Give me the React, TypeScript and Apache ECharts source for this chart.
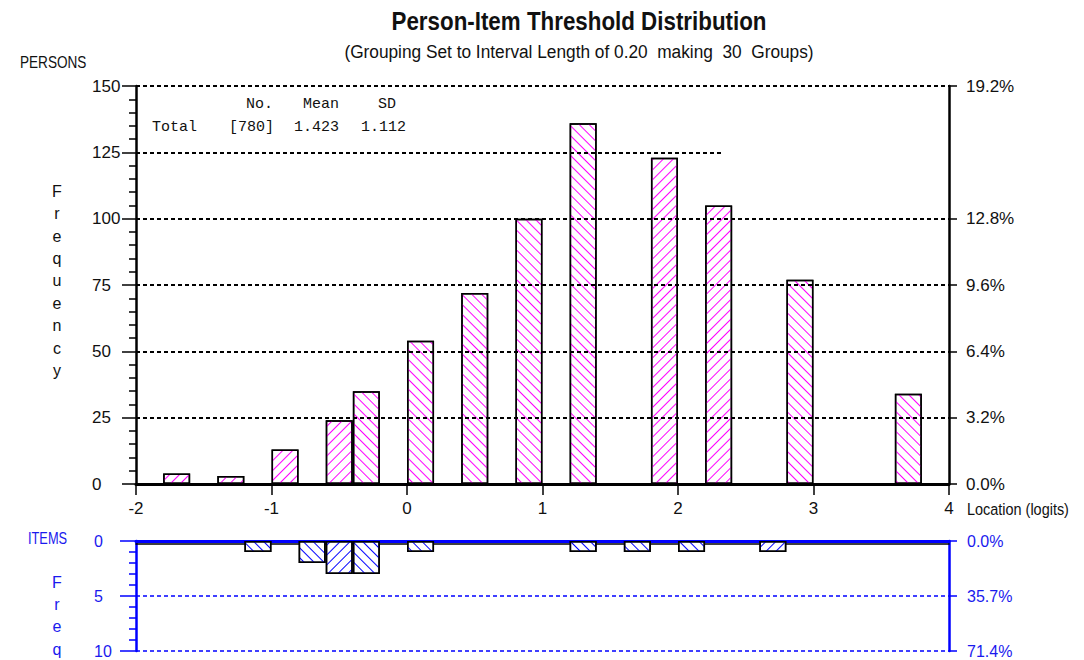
import React, { useEffect, useRef } from "react";
import * as echarts from "echarts";

// ---- data ----
const BIN = 0.2;
const personBinStarts = [-1.8, -1.4, -1.0, -0.6, -0.4, 0.0, 0.4, 0.8, 1.2, 1.8, 2.2, 2.8, 3.6];
const personCounts = [4, 3, 13, 24, 35, 54, 72, 100, 136, 123, 105, 77, 34];
const personHatch = ["/", "/", "/", "/", "\\", "\\", "\\", "\\", "\\", "/", "/", "\\", "\\"];
const itemBinStarts = [-1.2, -0.8, -0.6, -0.4, 0.0, 1.2, 1.6, 2.0, 2.6];
const itemCounts = [1, 2, 3, 3, 1, 1, 1, 1, 1];
const itemHatch = ["\\", "\\", "/", "\\", "\\", "\\", "\\", "\\", "/"];
const personGridFull = [25, 50, 75, 100, 150];
const personGridPartial = 125;
const personGridPartialEnd = 2.32;
const personPctTicks = [0, 25, 50, 75, 100, 150];
const itemPctTicks = [0, 5, 10];
const statHeaders = ["No.", "Mean", "SD"];
const statMean = "1.423";
const statSD = "1.112";
const titleText = "Person-Item Threshold Distribution";
const subtitleText = "(Grouping Set to Interval Length of 0.20  making  30  Groups)";

const NARROW = "'Liberation Sans Narrow', 'Arial Narrow', 'Liberation Sans', Arial, sans-serif";
const MONO = "'Liberation Mono', 'DejaVu Sans Mono', monospace";
const BLUE = "#0000ff";
const BLUE_TXT = "#1a1aee";

const hatch = (dir: string, color: string) => ({
  symbol: "rect",
  symbolSize: 1,
  dashArrayX: [1, 0],
  dashArrayY: [1, 5.6],
  rotation: dir === "/" ? -Math.PI / 4 : Math.PI / 4,
  color,
});

export default function App() {
  const ref = useRef<HTMLDivElement>(null);
  useEffect(() => {
    if (!ref.current) return;
    const chart = echarts.init(ref.current, undefined, { renderer: "svg" });
    const personTotal = personCounts.reduce((a, b) => a + b, 0);
    const itemTotal = itemCounts.reduce((a, b) => a + b, 0);

    const personData = personBinStarts.map((s, i) => ({
      value: [s + BIN / 2, personCounts[i]],
      itemStyle: { decal: hatch(personHatch[i], "#ff00ff") },
    }));
    const itemData = itemBinStarts.map((s, i) => ({
      value: [s + BIN / 2, itemCounts[i]],
      itemStyle: { decal: hatch(itemHatch[i], BLUE) },
    }));

    const txt = (x: number, y: number, text: string, o: any = {}) => ({
      type: "text",
      x,
      y,
      scaleX: o.scaleX || 1,
      silent: true,
      style: {
        text,
        fill: o.fill || "#111",
        font: o.font || `17px ${NARROW}`,
        textAlign: o.align || "left",
        textVerticalAlign: o.valign || "middle",
        lineHeight: o.lineHeight,
      },
    });

    const option: any = {
      animation: false,
      backgroundColor: "#fff",
      grid: [
        { left: 136, top: 86, width: 813, height: 398 },
        { left: 136, top: 541, width: 813, height: 110 },
      ],
      xAxis: [
        {
          type: "value",
          gridIndex: 0,
          min: -2,
          max: 4,
          interval: 1,
          axisLine: { show: true, onZero: false, lineStyle: { color: "#000", width: 3 } },
          axisTick: { show: true, length: 11, lineStyle: { color: "#000", width: 1.5 } },
          axisLabel: { color: "#111", fontSize: 17, fontFamily: NARROW, margin: 16 },
          splitLine: { show: false },
        },
        {
          type: "value",
          gridIndex: 1,
          position: "top",
          min: -2,
          max: 4,
          interval: 1,
          axisLine: { show: true, onZero: false, lineStyle: { color: BLUE, width: 3 } },
          axisTick: { show: false },
          axisLabel: { show: false },
          splitLine: { show: false },
        },
        {
          type: "value",
          gridIndex: 1,
          position: "top",
          offset: -2.5,
          min: -2,
          max: 4,
          interval: 1,
          axisLine: { show: true, onZero: false, lineStyle: { color: "#000", width: 1.5 } },
          axisTick: { show: false },
          axisLabel: { show: false },
          splitLine: { show: false },
        },
      ],
      yAxis: [
        {
          type: "value",
          gridIndex: 0,
          position: "left",
          min: 0,
          max: 150,
          interval: 25,
          axisLine: { show: true, onZero: false, lineStyle: { color: "#000", width: 2.5 } },
          axisTick: { show: true, length: 14, lineStyle: { color: "#000", width: 1.5 } },
          minorTick: { show: true, splitNumber: 5, length: 7, lineStyle: { color: "#000", width: 1.5 } },
          axisLabel: { color: "#111", fontSize: 17, fontFamily: NARROW, align: "left", margin: 44 },
          splitLine: { show: false },
        },
        {
          type: "value",
          gridIndex: 0,
          position: "right",
          min: 0,
          max: 150,
          axisLine: { show: true, onZero: false, lineStyle: { color: "#000", width: 2.5 } },
          axisTick: { show: true, length: 8, customValues: personPctTicks, lineStyle: { color: "#000", width: 1.5 } },
          axisLabel: {
            color: "#111",
            fontSize: 17,
            fontFamily: NARROW,
            margin: 17,
            customValues: personPctTicks,
            formatter: (v: number) => ((v / personTotal) * 100).toFixed(1) + "%",
          },
          splitLine: { show: false },
        },
        {
          type: "value",
          gridIndex: 1,
          position: "left",
          inverse: true,
          min: 0,
          max: 10,
          interval: 5,
          axisLine: { show: true, onZero: false, lineStyle: { color: BLUE, width: 2.5 } },
          axisTick: { show: true, length: 16, lineStyle: { color: BLUE, width: 1.5 } },
          minorTick: { show: true, splitNumber: 5, length: 7, lineStyle: { color: BLUE, width: 1.5 } },
          axisLabel: { color: BLUE_TXT, fontSize: 16, fontFamily: NARROW, align: "left", margin: 42 },
          splitLine: { show: true, lineStyle: { color: BLUE, type: [4, 3], width: 1.5 } },
        },
        {
          type: "value",
          gridIndex: 1,
          position: "right",
          inverse: true,
          min: 0,
          max: 10,
          axisLine: { show: true, onZero: false, lineStyle: { color: BLUE, width: 2.5 } },
          axisTick: { show: true, length: 8, customValues: itemPctTicks, lineStyle: { color: BLUE, width: 1.5 } },
          axisLabel: {
            color: BLUE_TXT,
            fontSize: 16,
            fontFamily: NARROW,
            margin: 18,
            customValues: itemPctTicks,
            formatter: (v: number) => ((v / itemTotal) * 100).toFixed(1) + "%",
          },
          splitLine: { show: false },
        },
      ],
      series: [
        {
          type: "bar",
          xAxisIndex: 0,
          yAxisIndex: 0,
          barWidth: 27,
          data: personData,
          itemStyle: { color: "#fff", borderColor: "#000", borderWidth: 1.5 },
          markLine: {
            silent: true,
            symbol: "none",
            label: { show: false },
            lineStyle: { color: "#000", type: [4, 3], width: 2 },
            data: [
              ...personGridFull.map((v) => ({ yAxis: v })),
              [{ coord: [-2, personGridPartial] }, { coord: [personGridPartialEnd, personGridPartial] }],
            ],
          },
        },
        {
          type: "bar",
          xAxisIndex: 1,
          yAxisIndex: 2,
          barWidth: 27,
          data: itemData,
          itemStyle: { color: "#fff", borderColor: "#000", borderWidth: 1.5 },
        },
      ],
      graphic: [
        txt(579, 21, titleText, { font: `bold 26px ${NARROW}`, align: "center", scaleX: 0.86 }),
        txt(579, 52, subtitleText, { font: `18px ${NARROW}`, align: "center", scaleX: 0.96 }),
        txt(20, 63, "PERSONS", { font: `16px ${NARROW}`, scaleX: 0.85 }),
        txt(246, 104, statHeaders[0], { font: `15px ${MONO}` }),
        txt(303, 104, statHeaders[1], { font: `15px ${MONO}` }),
        txt(378, 104, statHeaders[2], { font: `15px ${MONO}` }),
        txt(152, 127, "Total", { font: `15px ${MONO}` }),
        txt(229, 127, `[${personTotal}]`, { font: `15px ${MONO}` }),
        txt(294, 127, statMean, { font: `15px ${MONO}` }),
        txt(361, 127, statSD, { font: `15px ${MONO}` }),
        txt(57, 180, "F\nr\ne\nq\nu\ne\nn\nc\ny", { font: `16px ${NARROW}`, align: "center", valign: "top", lineHeight: 22.4 }),
        txt(967, 509, "Location (logits)", { font: `17px ${NARROW}`, scaleX: 0.85 }),
        txt(28, 538, "ITEMS", { font: `16px ${NARROW}`, fill: BLUE_TXT, scaleX: 0.8 }),
        txt(57, 571, "F\nr\ne\nq", { font: `16px ${NARROW}`, align: "center", valign: "top", lineHeight: 22.3, fill: BLUE_TXT }),
      ],
    };
    chart.setOption(option);
    return () => chart.dispose();
  }, []);
  return (
    <div
      ref={ref}
      style={{ position: "fixed", left: 0, top: 0, width: 1084, height: 660, background: "#fff" }}
    />
  );
}
